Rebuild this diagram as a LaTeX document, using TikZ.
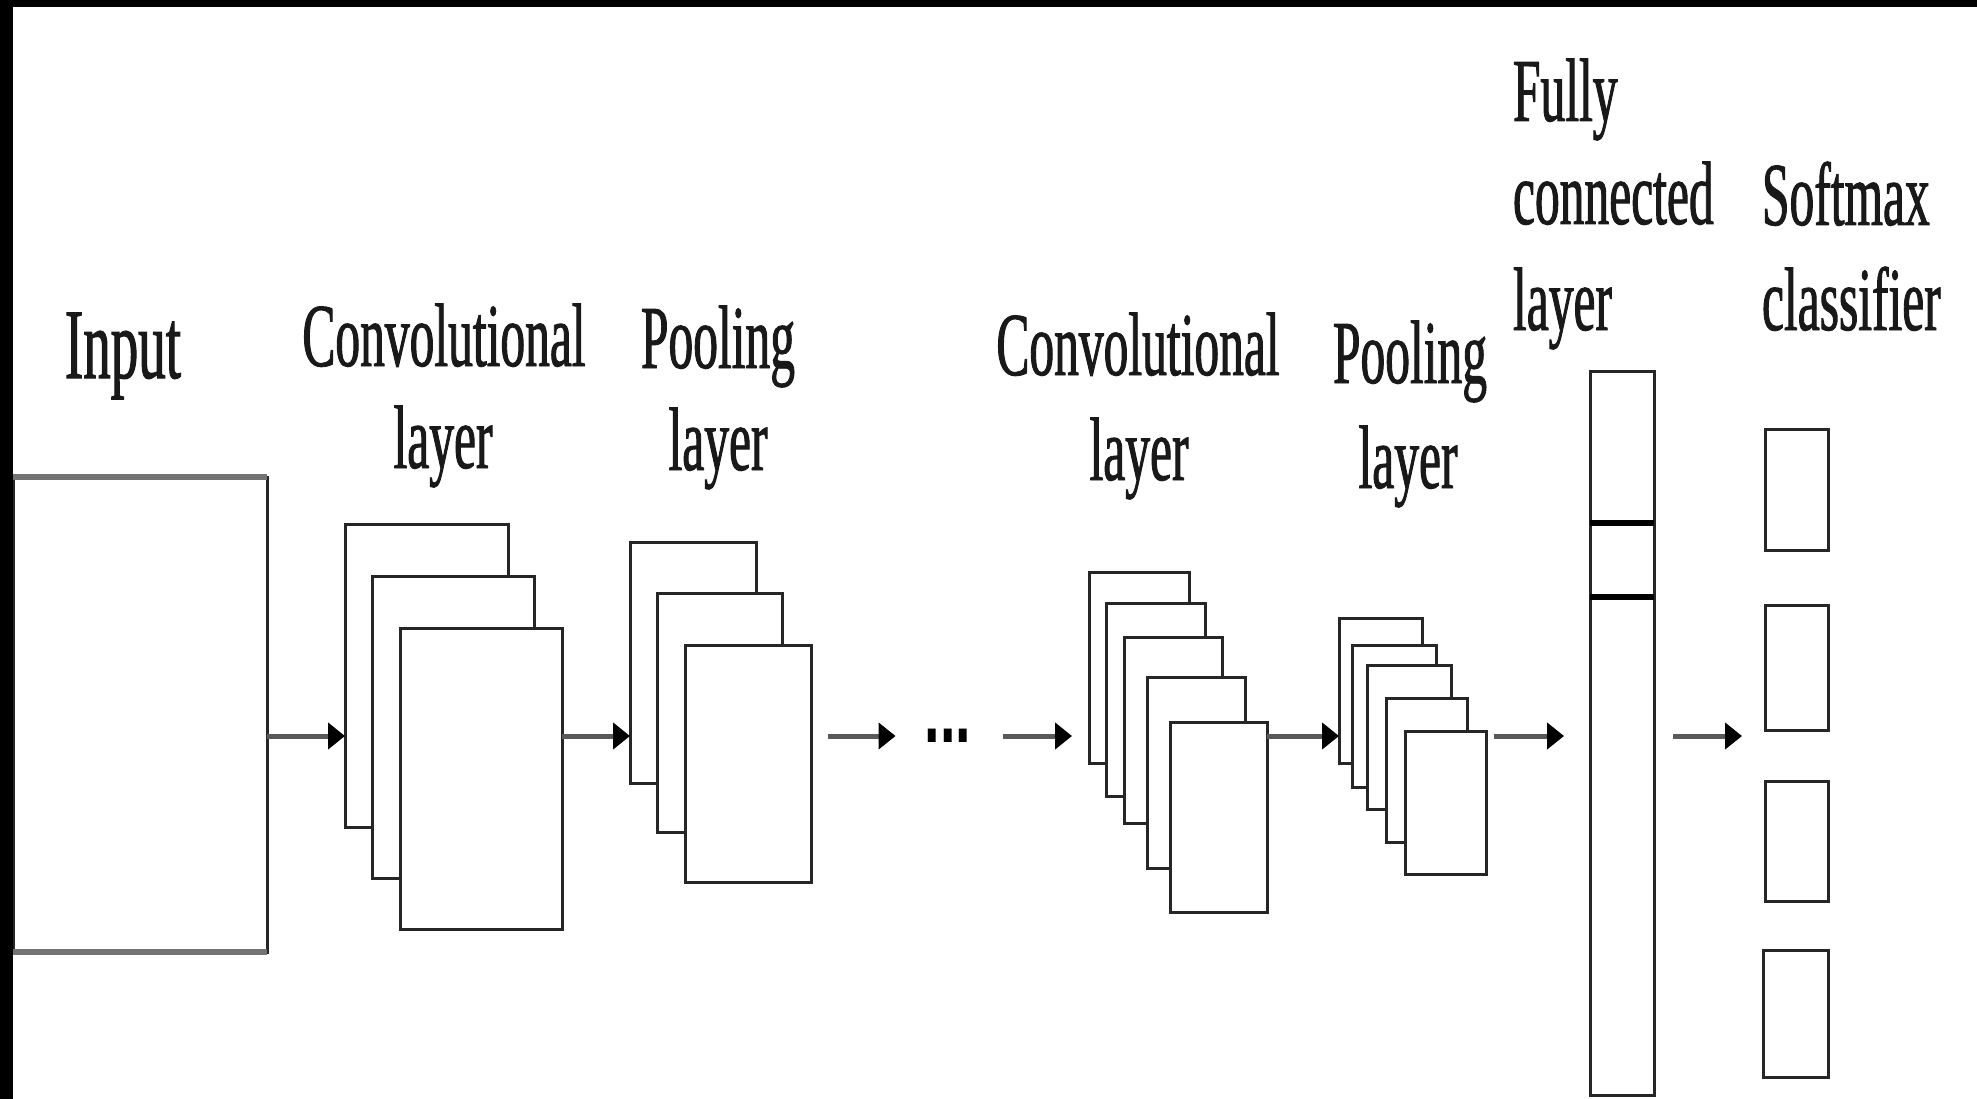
\documentclass[tikz,border=0pt]{standalone}
\usepackage{fontspec}
\usetikzlibrary{arrows.meta}
\newfontfamily\lblfont{Liberation Serif}[FakeStretch=0.55, FakeBold=1]
\newfontfamily\dotfont{Liberation Sans}[FakeStretch=0.62]

\tikzset{
  plate/.style={draw=black!85, line width=3pt, fill=white, inner sep=0pt, outer sep=0pt},
  flow/.style={draw=black!65, line width=5pt, -{Triangle[length=17pt,width=26pt,black]}},
  lbl/.style={inner sep=0pt, outer sep=0pt, font=\lblfont\fontsize{90}{105}\selectfont, text=black!90},
  rim/.style={draw=black!55, line width=6pt},
  band/.style={draw=black, line width=6pt},
}

% a feature map drawn as a white rectangle between two corners
\newcommand\plateat[5]{%
  \node[plate, minimum width={#4-#2}, minimum height={#5-#3}] (#1) at ({(#2+#4)/2},{(#3+#5)/2}) {};}

\begin{document}
\begin{tikzpicture}[x=1pt,y=-1pt]
\useasboundingbox (0,0) rectangle (1977,1099);
\fill[white] (0,0) rectangle (1977,1099);

% input image
\plateat{input}{13}{477}{267}{952}
\draw[rim] (input.north west) -- (input.north east);
\draw[rim] (input.south west) -- (input.south east);

% first convolutional layer
\plateat{c1a}{345}{524}{508}{827}
\plateat{c1b}{372}{576}{534}{878}
\plateat{c1c}{400}{628}{562}{929}

% first pooling layer
\plateat{p1a}{630}{542}{756}{783}
\plateat{p1b}{657}{593}{782}{832}
\plateat{p1c}{685}{645}{811}{882}

% second convolutional layer
\plateat{c2a}{1089}{572}{1189}{763}
\plateat{c2b}{1106}{603}{1205}{796}
\plateat{c2c}{1124}{637}{1222}{823}
\plateat{c2d}{1147}{677}{1245}{868}
\plateat{c2e}{1170}{722}{1267}{912}

% second pooling layer
\plateat{p2a}{1339}{618}{1422}{763}
\plateat{p2b}{1352}{645}{1436}{787}
\plateat{p2c}{1367}{665}{1451}{809}
\plateat{p2d}{1386}{698}{1467}{842}
\plateat{p2e}{1405}{731}{1486}{874}

% fully connected layer
\plateat{fc}{1590}{371}{1654}{1095}
\coordinate (fcl1) at (0,523);
\coordinate (fcl2) at (0,597);
\draw[band] (fc.west |- fcl1) -- (fc.east |- fcl1);
\draw[band] (fc.west |- fcl2) -- (fc.east |- fcl2);

% softmax outputs
\plateat{sm1}{1765}{429}{1828}{550}
\plateat{sm2}{1765}{605}{1828}{730}
\plateat{sm3}{1765}{781}{1828}{901}
\plateat{sm4}{1763}{950}{1828}{1077}

% ellipsis between the stages
\node[inner sep=0pt, font=\dotfont\bfseries\fontsize{90}{90}\selectfont] (dots) at (948,736) {...};

% data flow
\coordinate (axis) at (0,736);
\draw[flow] (input.east |- axis) -- (c1a.west |- axis);
\draw[flow] (c1c.east |- axis) -- (p1a.west |- axis);
\draw[flow, shorten <=17pt, shorten >=29pt] (p1c.east |- axis) -- (dots.west |- axis);
\draw[flow, shorten <=32pt, shorten >=17pt] (dots.east |- axis) -- (c2a.west |- axis);
\draw[flow] (c2e.east |- axis) -- (p2a.west |- axis);
\draw[flow, shorten <=8pt, shorten >=26pt] (p2e.east |- axis) -- (fc.west |- axis);
\draw[flow, shorten <=19pt, shorten >=23pt] (fc.east |- axis) -- (sm2.west |- axis);

% labels
\node[lbl, anchor=base, font=\lblfont\fontsize{100}{110}\selectfont] (tin) at (123,378) {Input};
\node[lbl, anchor=base] (tc1a) at (444,366) {Convolutional};
\node[lbl, anchor=base] (tc1b) at (443,468) {layer};
\node[lbl, anchor=base] (tp1a) at (718,368) {Pooling};
\node[lbl, anchor=base] (tp1b) at (718,470) {layer};
\node[lbl, anchor=base] (tc2a) at (1138,375) {Convolutional};
\node[lbl, anchor=base] (tc2b) at (1139,480) {layer};
\node[lbl, anchor=base] (tp2a) at (1410,383) {Pooling};
\node[lbl, anchor=base] (tp2b) at (1408,488) {layer};
\node[lbl, anchor=base west] (tfa) at (1513,121) {Fully};
\node[lbl, anchor=base west] (tfb) at (1513,224) {connected};
\node[lbl, anchor=base west] (tfc) at (1513,330) {layer};
\node[lbl, anchor=base west] (tsa) at (1762,225) {Softmax};
\node[lbl, anchor=base west] (tsb) at (1762,330) {classifier};

% dark frame along the top and left edges
\fill[black] (0,0) rectangle (1977,7);
\fill[black] (0,0) rectangle (13,1099);
\end{tikzpicture}
\end{document}
